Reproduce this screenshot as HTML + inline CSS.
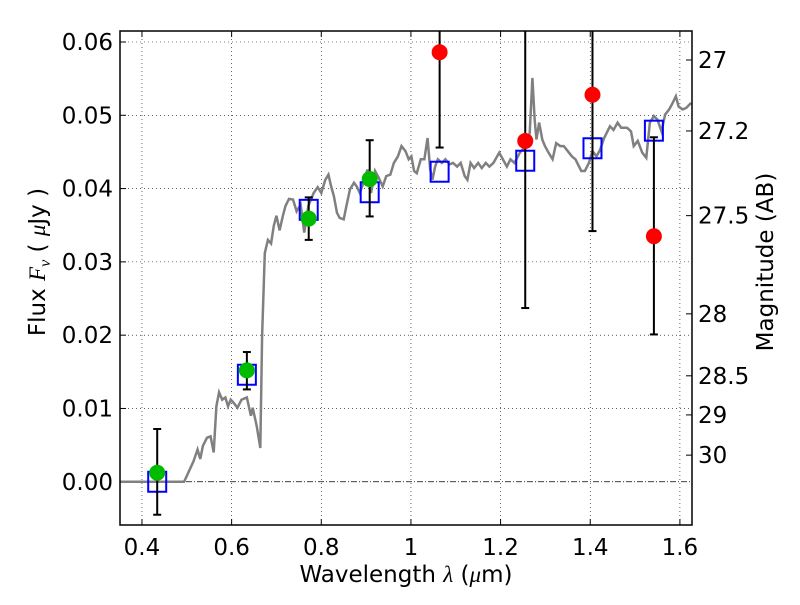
<!DOCTYPE html>
<html><head><meta charset="utf-8"><style>
body{margin:0;background:#fff;}
svg text{font-family:"DejaVu Sans","Liberation Sans",sans-serif;fill:#000;}
</style></head><body>
<svg id="chart" width="800" height="600" xmlns="http://www.w3.org/2000/svg"></svg>
<script>
const xTicks=[0.4,0.6,0.8,1.0,1.2,1.4,1.6];
const xTickLabels=["0.4","0.6","0.8","1","1.2","1.4","1.6"];
const yTicks=[0,0.01,0.02,0.03,0.04,0.05,0.06];
const yTickLabels=["0.00","0.01","0.02","0.03","0.04","0.05","0.06"];
const magTicks=[27,27.2,27.5,28,28.5,29,30];
const magTickLabels=["27","27.2","27.5","28","28.5","29","30"];
const specWave=[0.351,0.494,0.515,0.524,0.530,0.536,0.545,0.553,0.560,0.566,0.572,0.579,0.586,0.592,0.598,0.604,0.613,0.622,0.634,0.643,0.647,0.656,0.664,0.668,0.674,0.681,0.688,0.694,0.700,0.707,0.714,0.720,0.728,0.737,0.745,0.754,0.762,0.771,0.783,0.792,0.800,0.809,0.816,0.822,0.828,0.835,0.841,0.850,0.856,0.864,0.873,0.879,0.886,0.894,0.903,0.911,0.920,0.928,0.937,0.945,0.954,0.962,0.971,0.979,0.988,0.995,1.001,1.007,1.013,1.022,1.030,1.037,1.043,1.048,1.054,1.060,1.069,1.077,1.086,1.094,1.103,1.111,1.120,1.126,1.133,1.141,1.150,1.158,1.167,1.175,1.184,1.197,1.205,1.214,1.222,1.231,1.243,1.256,1.265,1.271,1.276,1.280,1.286,1.293,1.299,1.307,1.316,1.324,1.333,1.341,1.350,1.359,1.367,1.380,1.388,1.397,1.405,1.414,1.422,1.431,1.444,1.452,1.461,1.469,1.482,1.491,1.497,1.506,1.516,1.525,1.533,1.542,1.550,1.559,1.567,1.576,1.584,1.591,1.597,1.606,1.614,1.625];
const specFlux=[0,0,.0028,.0044,.0031,.0049,.0060,.0062,.0040,.0103,.0122,.0112,.0115,.0103,.0112,.0108,.0101,.0112,.0115,.0090,.0101,.0076,.0046,.0199,.0312,.0330,.0325,.0349,.0363,.0343,.0362,.0376,.0386,.0385,.0369,.0378,.0340,.0376,.0394,.0402,.0394,.0412,.0419,.0403,.0390,.0367,.0360,.0358,.0376,.0399,.0408,.0403,.0394,.0408,.0426,.0394,.0424,.0415,.0403,.0417,.0419,.0435,.0444,.0458,.0451,.0440,.0444,.0424,.0421,.0440,.0440,.0469,.0426,.0412,.0430,.0440,.0435,.0440,.0433,.0435,.0430,.0435,.0417,.0412,.0435,.0428,.0435,.0428,.0435,.0430,.0435,.0449,.0440,.0430,.0440,.0435,.0449,.0458,.0476,.0551,.0494,.0467,.0490,.0467,.0458,.0449,.0440,.0462,.0458,.0458,.0451,.0444,.0440,.0424,.0424,.0435,.0451,.0444,.0453,.0469,.0485,.0480,.0490,.0483,.0483,.0478,.0458,.0465,.0449,.0442,.0490,.0499,.0494,.0478,.0501,.0508,.0517,.0526,.0512,.0508,.0510,.0517];
const greenWave=[0.434,0.634,0.772,0.908];
const greenFlux=[0.00123,0.0152,0.0359,0.0413];
const greenErrHi=[0.0072,0.0177,0.0388,0.0466];
const greenErrLo=[-0.0045,0.0126,0.0330,0.0362];
const redWave=[1.064,1.255,1.405,1.542];
const redFlux=[0.0586,0.0465,0.0528,0.0335];
const redErrHi=[0.08,0.08,0.08,0.0470];
const redErrLo=[0.0456,0.0237,0.0342,0.0201];
const modelWave=[0.434,0.634,0.772,0.908,1.064,1.255,1.405,1.542];
const modelFlux=[0.0,0.0146,0.0371,0.0395,0.0423,0.0438,0.0455,0.0479];

const L=120,R=692,T=31,B=525;
const X0=0.351,X1=1.627,Y0=-0.0059,Y1=0.0615;
const xs=v=>L+(v-X0)/(X1-X0)*(R-L);
const ys=v=>B-(v-Y0)/(Y1-Y0)*(B-T);
const svg=document.getElementById('chart');
const NS='http://www.w3.org/2000/svg';
function mk(tag,attrs,parent){const e=document.createElementNS(NS,tag);for(const k in attrs)e.setAttribute(k,attrs[k]);(parent||svg).appendChild(e);return e;}
const defs=mk('defs',{});const cp=mk('clipPath',{id:'c'},defs);mk('rect',{x:L,y:T,width:R-L,height:B-T},cp);

xTicks.forEach((t,i)=>{
 const g=mk('line',{x1:xs(t),x2:xs(t),y1:T,y2:B,stroke:'#000','stroke-width':0.6,'stroke-dasharray':'1,3'});
 
 
 mk('line',{x1:xs(t),x2:xs(t),y1:B,y2:B-6,stroke:'#000'});
 mk('line',{x1:xs(t),x2:xs(t),y1:T,y2:T+6,stroke:'#000'});
 const tx=mk('text',{x:xs(t),y:B+30,'text-anchor':'middle','font-size':23});tx.textContent=xTickLabels[i];
 
 
});
yTicks.forEach((t,i)=>{
 if(t!==0){const g=mk('line',{x1:L,x2:R,y1:ys(t),y2:ys(t),stroke:'#000','stroke-width':0.6,'stroke-dasharray':'1,3'});
 
 }
 mk('line',{x1:L,x2:L+6,y1:ys(t),y2:ys(t),stroke:'#000'});
 const tx=mk('text',{x:L-7,y:ys(t)+8,'text-anchor':'end','font-size':23});tx.textContent=yTickLabels[i];
 
 
});
magTicks.forEach((m,i)=>{
 const f=Math.pow(10,(23.9-m)/2.5);
 mk('line',{x1:R-6,x2:R,y1:ys(f),y2:ys(f),stroke:'#000'});
 const tx=mk('text',{x:R+6,y:ys(f)+8,'font-size':23});tx.textContent=magTickLabels[i];
 
 
});
const zl=mk('line',{x1:L,x2:R,y1:ys(0),y2:ys(0),stroke:'#000','stroke-width':0.7,'stroke-dasharray':'6,2,1,2'});



const gp=mk('g',{'clip-path':'url(#c)'});
const sp=mk('polyline',{points:specWave.map((w,i)=>xs(w)+','+ys(specFlux[i])).join(' '),fill:'none',stroke:'#808080','stroke-width':2.5},gp);



function errbar(w,lo,hi,name){
 const g=mk('g',{},gp);
 
 
 mk('line',{x1:xs(w),x2:xs(w),y1:ys(lo),y2:ys(hi),stroke:'#000','stroke-width':2},g);
 [lo,hi].forEach(v=>mk('line',{x1:xs(w)-4,x2:xs(w)+4,y1:ys(v),y2:ys(v),stroke:'#000','stroke-width':2},g));
}
modelWave.forEach((w,i)=>{
 const r=mk('rect',{x:xs(w)-9,y:ys(modelFlux[i])-10,width:18,height:20,fill:'none',stroke:'#0000ff','stroke-width':2},gp);
 
 
});
greenWave.forEach((w,i)=>{
 errbar(w,greenErrLo[i],greenErrHi[i],'detection-error-bar');
 const c=mk('circle',{cx:xs(w),cy:ys(greenFlux[i]),r:8,fill:'#00bb00'},gp);
 
 
});
redWave.forEach((w,i)=>{
 errbar(w,redErrLo[i],redErrHi[i],'upper-limit-error-bar');
 const c=mk('circle',{cx:xs(w),cy:ys(redFlux[i]),r:8,fill:'#ff0000'},gp);
 
 
});
const fr=mk('rect',{x:L,y:T,width:R-L,height:B-T,fill:'none',stroke:'#000','stroke-width':1.5});


</script>
<svg style="position:absolute;left:0;top:0" width="800" height="600">
<text x="406" y="582" text-anchor="middle" font-size="23">Wavelength  <tspan font-style="italic" font-family="Liberation Serif,serif">λ</tspan> (<tspan font-style="italic" font-family="Liberation Serif,serif">μ</tspan>m)</text>
<text transform="translate(45,262) rotate(-90)" text-anchor="middle" font-size="23">Flux  <tspan font-style="italic" font-family="Liberation Serif,serif">F</tspan><tspan font-style="italic" font-family="Liberation Serif,serif" font-size="16" dy="5">ν</tspan><tspan dy="-5">  (  </tspan><tspan font-style="italic" font-family="Liberation Serif,serif">μ</tspan>Jy )</text>
<text transform="translate(773,262) rotate(-90)" text-anchor="middle" font-size="23">Magnitude (AB)</text>
</svg>
</body></html>
